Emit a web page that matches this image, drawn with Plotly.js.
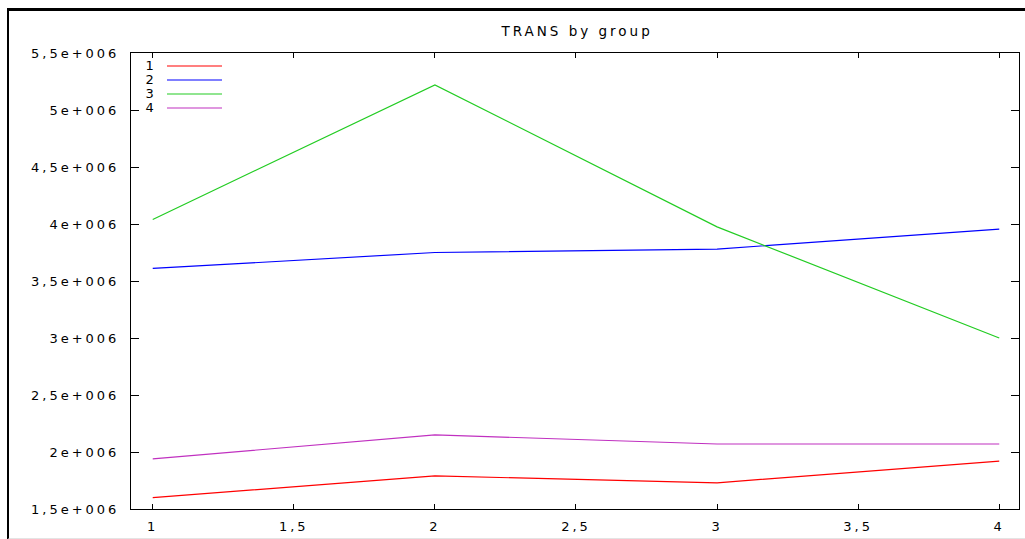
<!DOCTYPE html>
<html>
<head>
<meta charset="utf-8">
<script src="https://cdn.plot.ly/plotly-3.0.1.min.js"></script>
<style>
  html, body { margin: 0; padding: 0; background: #fff; }
  #wrap { position: relative; width: 1025px; height: 539px; }
  #chart { position: absolute; left: 0; top: 0; width: 1025px; height: 539px; }
  #frame { position: absolute; left: 7px; top: 8px; right: -2px; height: 527px;
           border-top: 3px solid #000; border-left: 2px solid #000; border-bottom: 2px solid #e4e4e4;
           pointer-events: none; }
  #chart svg text { letter-spacing: 3px; }
</style>
</head>
<body>
<div id="wrap">
  <div id="chart"></div>
  <div id="frame"></div>
</div>
<script>
// Data
const xValues = [1, 2, 3, 4];
const seriesNames = ["1", "2", "3", "4"];
const seriesColors = ["#ff0000", "#0000ff", "#22cc22", "#c030c0"];
const group1 = [1600000, 1790000, 1730000, 1920000];
const group2 = [3610000, 3750000, 3780000, 3955000];
const group3 = [4040000, 5220000, 3975000, 3000000];
const group4 = [1940000, 2150000, 2070000, 2070000];
const seriesValues = [group1, group2, group3, group4];

const xTickVals = [1, 1.5, 2, 2.5, 3, 3.5, 4];
const xTickText = ["1", "1,5", "2", "2,5", "3", "3,5", "4"];
const yTickVals = [1500000, 2000000, 2500000, 3000000, 3500000, 4000000, 4500000, 5000000, 5500000];
const yTickText = ["1,5e+006", "2e+006", "2,5e+006", "3e+006", "3,5e+006", "4e+006", "4,5e+006", "5e+006", "5,5e+006"];
const titleText = "TRANS by group";

const font = { family: "DejaVu Sans, Verdana, sans-serif", size: 13, color: "#000" };

const traces = seriesValues.map((vals, i) => ({
  type: "scatter",
  mode: "lines",
  x: xValues,
  y: vals,
  name: seriesNames[i],
  line: { color: seriesColors[i], width: 1.2 },
  showlegend: false,
  hoverinfo: "skip"
}));

// Legend drawn gnuplot-style (label then line sample)
const legendRowY = [0.9715, 0.9408, 0.9101, 0.8794];
const shapes = seriesNames.map((n, i) => ({
  type: "line", xref: "paper", yref: "paper",
  x0: 0.0405, x1: 0.1025, y0: legendRowY[i], y1: legendRowY[i],
  line: { color: seriesColors[i], width: 1.2 }
}));
const annotations = seriesNames.map((n, i) => ({
  xref: "paper", yref: "paper", x: 0.0295, y: legendRowY[i],
  xanchor: "right", yanchor: "middle", text: n, showarrow: false,
  font: font
}));

const layout = {
  width: 1025, height: 539,
  margin: { l: 131, r: 6, t: 53, b: 30, pad: 0 },
  paper_bgcolor: "#fff", plot_bgcolor: "#fff",
  font: font,
  title: { text: titleText, font: { family: font.family, size: 13.5, color: "#000" },
           x: 0.563, xanchor: "center", y: 0.942, yanchor: "middle" },
  xaxis: {
    range: [0.923, 4.07],
    tickmode: "array", tickvals: xTickVals, ticktext: xTickText,
    ticks: "inside", ticklen: 5, tickwidth: 1, tickcolor: "#000",
    showline: true, linecolor: "#000", linewidth: 1, mirror: "ticks",
    showgrid: false, zeroline: false, ticklabelstandoff: 5,
    tickfont: font
  },
  yaxis: {
    range: [1500000, 5500000],
    tickmode: "array", tickvals: yTickVals, ticktext: yTickText,
    ticks: "inside", ticklen: 8, tickwidth: 1, tickcolor: "#000",
    showline: true, linecolor: "#000", linewidth: 1, mirror: "ticks",
    showgrid: false, zeroline: false, ticklabelstandoff: 8,
    tickfont: font
  },
  shapes: shapes,
  annotations: annotations
};

Plotly.newPlot("chart", traces, layout, { staticPlot: true, displayModeBar: false });
</script>
</body>
</html>
